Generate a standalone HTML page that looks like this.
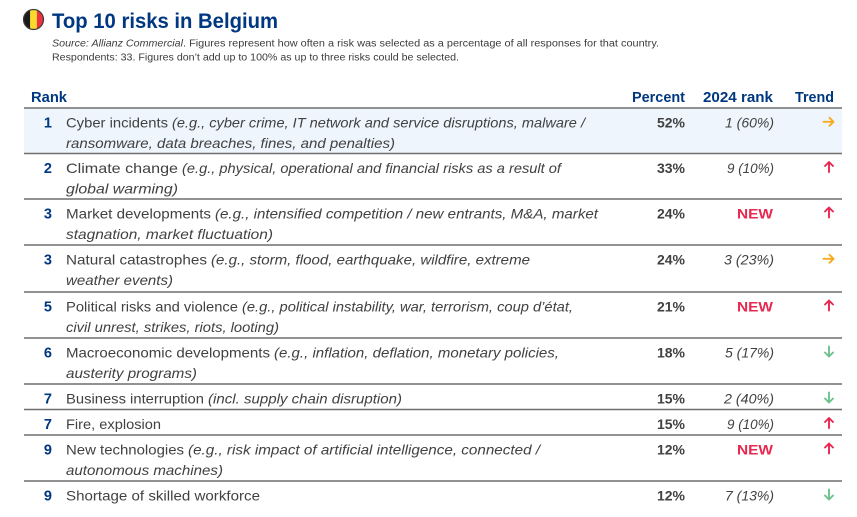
<!DOCTYPE html>
<html>
<head>
<meta charset="utf-8">
<style>
  html, body { margin:0; padding:0; background:#ffffff; }
  body { width:857px; height:517px; overflow:hidden; }
  svg { display:block; }
  .t { font-family:"Liberation Sans", sans-serif; }
  .title { font-weight:bold; font-size:21px; fill:#003781; }
  .sub { font-size:10px; fill:#3c3c3c; }
  .hd { font-weight:bold; font-size:14.5px; fill:#003781; }
  .rk { font-weight:bold; font-size:14.5px; fill:#003781; }
  .d { font-size:14px; fill:#414141; }
  .i { font-size:14px; fill:#414141; font-style:italic; }
  .p { font-size:14px; fill:#414141; font-weight:bold; }
  .r { font-size:14px; fill:#414141; font-style:italic; }
  .new { font-size:14px; fill:#e8284f; font-weight:bold; }
</style>
</head>
<body>
<svg width="857" height="517" viewBox="0 0 857 517" xmlns="http://www.w3.org/2000/svg">
  <!-- Flag -->
  <defs>
    <clipPath id="fc"><circle cx="33.5" cy="19.5" r="10"/></clipPath>
  </defs>
  <g clip-path="url(#fc)">
    <rect x="23" y="9" width="7.2" height="22" fill="#1a1a1a"/>
    <rect x="30.2" y="9" width="6.7" height="22" fill="#fbd92a"/>
    <rect x="36.9" y="9" width="7.5" height="22" fill="#ee3340"/>
  </g>
  <circle cx="33.5" cy="19.5" r="10" fill="none" stroke="#3a3a3a" stroke-width="1.2"/>

  <text class="t title" x="52" y="28" textLength="226" lengthAdjust="spacingAndGlyphs">Top 10 risks in Belgium</text>
  <text class="t sub" x="52" y="46.5"><tspan font-style="italic" textLength="131" lengthAdjust="spacingAndGlyphs">Source: Allianz Commercial</tspan><tspan x="183" textLength="476" lengthAdjust="spacingAndGlyphs">. Figures represent how often a risk was selected as a percentage of all responses for that country.</tspan></text>
  <text class="t sub" x="52" y="60.5" textLength="407" lengthAdjust="spacingAndGlyphs">Respondents: 33. Figures don’t add up to 100% as up to three risks could be selected.</text>

  <!-- Header -->
  <text class="t hd" x="31" y="102" textLength="36" lengthAdjust="spacingAndGlyphs">Rank</text>
  <text class="t hd" x="685" y="102" text-anchor="end" textLength="53" lengthAdjust="spacingAndGlyphs">Percent</text>
  <text class="t hd" x="773" y="102" text-anchor="end" textLength="70" lengthAdjust="spacingAndGlyphs">2024 rank</text>
  <text class="t hd" x="834" y="102" text-anchor="end" textLength="39" lengthAdjust="spacingAndGlyphs">Trend</text>

  <!-- Row 1 background -->
  <rect x="24" y="108.5" width="818" height="45" fill="#eef5fc"/>

  <!-- Lines -->
  <g stroke="#6f6f6f" stroke-width="1.6">
    <line x1="24" y1="108" x2="842" y2="108"/>
    <line x1="24" y1="153.5" x2="842" y2="153.5"/>
    <line x1="24" y1="199" x2="842" y2="199"/>
    <line x1="24" y1="245" x2="842" y2="245"/>
    <line x1="24" y1="292" x2="842" y2="292"/>
    <line x1="24" y1="338" x2="842" y2="338"/>
    <line x1="24" y1="384" x2="842" y2="384"/>
    <line x1="24" y1="409.5" x2="842" y2="409.5"/>
    <line x1="24" y1="435" x2="842" y2="435"/>
    <line x1="24" y1="481" x2="842" y2="481"/>
  </g>

  <!-- Row 1 (top 108) -->
  <text class="t rk" x="52" y="127.5" text-anchor="end">1</text>
  <text class="t d" x="66" y="127.5" textLength="102" lengthAdjust="spacingAndGlyphs">Cyber incidents</text>
  <text class="t i" x="172" y="127.5" textLength="413" lengthAdjust="spacingAndGlyphs">(e.g., cyber crime, IT network and service disruptions, malware /</text>
  <text class="t i" x="66" y="148" textLength="329" lengthAdjust="spacingAndGlyphs">ransomware, data breaches, fines, and penalties)</text>
  <text class="t p" x="685" y="127.5" text-anchor="end" textLength="28" lengthAdjust="spacingAndGlyphs">52%</text>
  <text class="t r" x="774" y="127.5" text-anchor="end" textLength="49" lengthAdjust="spacingAndGlyphs">1 (60%)</text>

  <!-- Row 2 (top 153.5) -->
  <text class="t rk" x="52" y="173" text-anchor="end">2</text>
  <text class="t d" x="66" y="173" textLength="112" lengthAdjust="spacingAndGlyphs">Climate change</text>
  <text class="t i" x="182" y="173" textLength="379" lengthAdjust="spacingAndGlyphs">(e.g., physical, operational and financial risks as a result of</text>
  <text class="t i" x="66" y="193.5" textLength="112" lengthAdjust="spacingAndGlyphs">global warming)</text>
  <text class="t p" x="685" y="173" text-anchor="end" textLength="28" lengthAdjust="spacingAndGlyphs">33%</text>
  <text class="t r" x="774" y="173" text-anchor="end" textLength="47" lengthAdjust="spacingAndGlyphs">9 (10%)</text>

  <!-- Row 3 (top 199) -->
  <text class="t rk" x="52" y="218.5" text-anchor="end">3</text>
  <text class="t d" x="66" y="218.5" textLength="145" lengthAdjust="spacingAndGlyphs">Market developments</text>
  <text class="t i" x="215" y="218.5" textLength="383" lengthAdjust="spacingAndGlyphs">(e.g., intensified competition / new entrants, M&amp;A, market</text>
  <text class="t i" x="66" y="239" textLength="207" lengthAdjust="spacingAndGlyphs">stagnation, market fluctuation)</text>
  <text class="t p" x="685" y="218.5" text-anchor="end" textLength="28" lengthAdjust="spacingAndGlyphs">24%</text>
  <text class="t new" x="773" y="218.5" text-anchor="end" textLength="36" lengthAdjust="spacingAndGlyphs">NEW</text>

  <!-- Row 4 (top 245) -->
  <text class="t rk" x="52" y="264.5" text-anchor="end">3</text>
  <text class="t d" x="66" y="264.5" textLength="141" lengthAdjust="spacingAndGlyphs">Natural catastrophes</text>
  <text class="t i" x="211" y="264.5" textLength="319" lengthAdjust="spacingAndGlyphs">(e.g., storm, flood, earthquake, wildfire, extreme</text>
  <text class="t i" x="66" y="285" textLength="107" lengthAdjust="spacingAndGlyphs">weather events)</text>
  <text class="t p" x="685" y="264.5" text-anchor="end" textLength="28" lengthAdjust="spacingAndGlyphs">24%</text>
  <text class="t r" x="774" y="264.5" text-anchor="end" textLength="50" lengthAdjust="spacingAndGlyphs">3 (23%)</text>

  <!-- Row 5 (top 292) -->
  <text class="t rk" x="52" y="311.5" text-anchor="end">5</text>
  <text class="t d" x="66" y="311.5" textLength="172" lengthAdjust="spacingAndGlyphs">Political risks and violence</text>
  <text class="t i" x="242" y="311.5" textLength="331" lengthAdjust="spacingAndGlyphs">(e.g., political instability, war, terrorism, coup d’état,</text>
  <text class="t i" x="66" y="332" textLength="213" lengthAdjust="spacingAndGlyphs">civil unrest, strikes, riots, looting)</text>
  <text class="t p" x="685" y="311.5" text-anchor="end" textLength="28" lengthAdjust="spacingAndGlyphs">21%</text>
  <text class="t new" x="773" y="311.5" text-anchor="end" textLength="36" lengthAdjust="spacingAndGlyphs">NEW</text>

  <!-- Row 6 (top 338) -->
  <text class="t rk" x="52" y="357.5" text-anchor="end">6</text>
  <text class="t d" x="66" y="357.5" textLength="204" lengthAdjust="spacingAndGlyphs">Macroeconomic developments</text>
  <text class="t i" x="274" y="357.5" textLength="285" lengthAdjust="spacingAndGlyphs">(e.g., inflation, deflation, monetary policies,</text>
  <text class="t i" x="66" y="378" textLength="131" lengthAdjust="spacingAndGlyphs">austerity programs)</text>
  <text class="t p" x="685" y="357.5" text-anchor="end" textLength="28" lengthAdjust="spacingAndGlyphs">18%</text>
  <text class="t r" x="774" y="357.5" text-anchor="end" textLength="49" lengthAdjust="spacingAndGlyphs">5 (17%)</text>

  <!-- Row 7 (top 384) -->
  <text class="t rk" x="52" y="403.5" text-anchor="end">7</text>
  <text class="t d" x="66" y="403.5" textLength="138" lengthAdjust="spacingAndGlyphs">Business interruption</text>
  <text class="t i" x="208" y="403.5" textLength="194" lengthAdjust="spacingAndGlyphs">(incl. supply chain disruption)</text>
  <text class="t p" x="685" y="403.5" text-anchor="end" textLength="28" lengthAdjust="spacingAndGlyphs">15%</text>
  <text class="t r" x="774" y="403.5" text-anchor="end" textLength="50" lengthAdjust="spacingAndGlyphs">2 (40%)</text>

  <!-- Row 8 (top 409.5) -->
  <text class="t rk" x="52" y="429" text-anchor="end">7</text>
  <text class="t d" x="66" y="429" textLength="95" lengthAdjust="spacingAndGlyphs">Fire, explosion</text>
  <text class="t p" x="685" y="429" text-anchor="end" textLength="28" lengthAdjust="spacingAndGlyphs">15%</text>
  <text class="t r" x="774" y="429" text-anchor="end" textLength="47" lengthAdjust="spacingAndGlyphs">9 (10%)</text>

  <!-- Row 9 (top 435) -->
  <text class="t rk" x="52" y="454.5" text-anchor="end">9</text>
  <text class="t d" x="66" y="454.5" textLength="118" lengthAdjust="spacingAndGlyphs">New technologies</text>
  <text class="t i" x="188" y="454.5" textLength="352" lengthAdjust="spacingAndGlyphs">(e.g., risk impact of artificial intelligence, connected /</text>
  <text class="t i" x="66" y="475" textLength="157" lengthAdjust="spacingAndGlyphs">autonomous machines)</text>
  <text class="t p" x="685" y="454.5" text-anchor="end" textLength="28" lengthAdjust="spacingAndGlyphs">12%</text>
  <text class="t new" x="773" y="454.5" text-anchor="end" textLength="36" lengthAdjust="spacingAndGlyphs">NEW</text>

  <!-- Row 10 (top 481) -->
  <text class="t rk" x="52" y="500.5" text-anchor="end">9</text>
  <text class="t d" x="66" y="500.5" textLength="194" lengthAdjust="spacingAndGlyphs">Shortage of skilled workforce</text>
  <text class="t p" x="685" y="500.5" text-anchor="end" textLength="28" lengthAdjust="spacingAndGlyphs">12%</text>
  <text class="t r" x="774" y="500.5" text-anchor="end" textLength="49" lengthAdjust="spacingAndGlyphs">7 (13%)</text>

  <!-- Trend arrows -->
  <g fill="none" stroke-width="1.9" stroke-linecap="round" stroke-linejoin="round">
    <!-- right arrows (orange) -->
    <g stroke="#f6ac1e">
      <path d="M823.5 121.8 H833.5 M829.5 117.8 L833.5 121.8 L829.5 125.8"/>
      <path d="M823.5 258.8 H833.5 M829.5 254.8 L833.5 258.8 L829.5 262.8"/>
    </g>
    <!-- up arrows (red) -->
    <g stroke="#e8284f">
      <path d="M829 162 V172 M825 166 L829 162 L833 166"/>
      <path d="M829 207.5 V217.5 M825 211.5 L829 207.5 L833 211.5"/>
      <path d="M829 300.5 V310.5 M825 304.5 L829 300.5 L833 304.5"/>
      <path d="M829 418 V428 M825 422 L829 418 L833 422"/>
      <path d="M829 443.5 V453.5 M825 447.5 L829 443.5 L833 447.5"/>
    </g>
    <!-- down arrows (green) -->
    <g stroke="#6cc28c">
      <path d="M829 346.5 V356.5 M825 352.5 L829 356.5 L833 352.5"/>
      <path d="M829 392.5 V402.5 M825 398.5 L829 402.5 L833 398.5"/>
      <path d="M829 489.5 V499.5 M825 495.5 L829 499.5 L833 495.5"/>
    </g>
  </g>
</svg>
</body>
</html>
